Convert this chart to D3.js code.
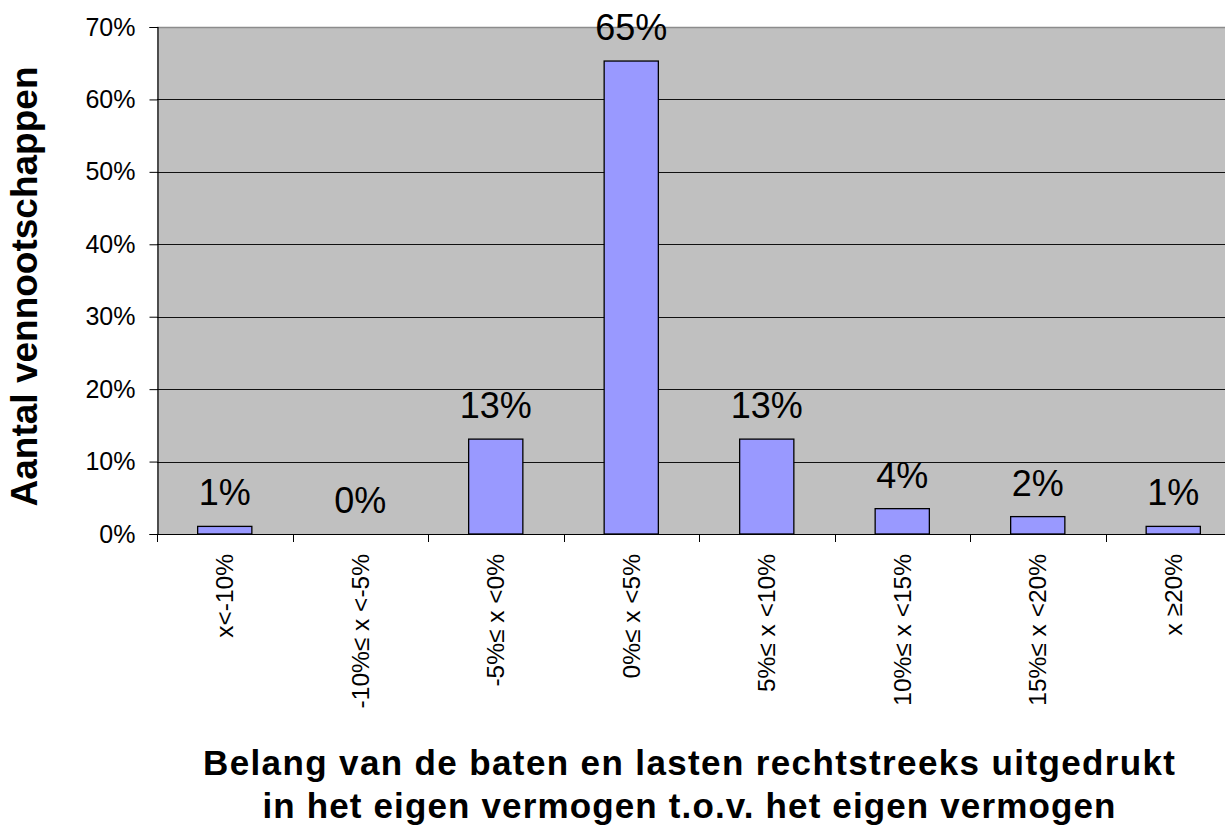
<!DOCTYPE html>
<html>
<head>
<meta charset="utf-8">
<script src="https://cdn.jsdelivr.net/npm/d3@7"></script>
<style>
  html, body { margin: 0; padding: 0; background: #ffffff; }
  svg { display: block; font-family: "Liberation Sans", Arial, sans-serif; }
</style>
</head>
<body>
<svg id="chart" width="1225" height="827"></svg>
<script>
// ---- Data ----
const categories = ["x<-10%", "-10%≤ x <-5%", "-5%≤ x <0%", "0%≤ x <5%", "5%≤ x <10%", "10%≤ x <15%", "15%≤ x <20%", "x ≥20%"];
const values = [1.05, 0, 13.1, 65.3, 13.1, 3.5, 2.4, 1.05]; // percent
const yTicks = [0, 10, 20, 30, 40, 50, 60, 70];
const yTitle = "Aantal vennootschappen";
const xTitleLines = ["Belang van de baten en lasten rechtstreeks uitgedrukt", "in het eigen vermogen t.o.v. het eigen vermogen"];

// ---- Layout ----
const plot = { left: 157, top: 27, right: 1241, bottom: 534 };
const svg = d3.select("#chart");

const x = d3.scaleBand()
  .domain(categories)
  .range([plot.left, plot.right])
  .paddingInner(0.6)
  .paddingOuter(0.3);

const y = d3.scaleLinear()
  .domain([0, 70])
  .range([plot.bottom, plot.top]);

// plot background
svg.append("rect")
  .attr("x", plot.left).attr("y", plot.top)
  .attr("width", plot.right - plot.left)
  .attr("height", plot.bottom - plot.top)
  .attr("fill", "#c0c0c0");

// top border
svg.append("line")
  .attr("x1", plot.left).attr("x2", plot.right)
  .attr("y1", y(70) + 0.5).attr("y2", y(70) + 0.5)
  .attr("stroke", "#8c8c8c").attr("stroke-width", 1.5);

// gridlines
svg.append("g").selectAll("line")
  .data(yTicks.filter(d => d > 0 && d < 70))
  .join("line")
  .attr("x1", plot.left).attr("x2", plot.right)
  .attr("y1", d => Math.round(y(d)) + 0.5).attr("y2", d => Math.round(y(d)) + 0.5)
  .attr("stroke", "#111").attr("stroke-width", 1);

// y axis
const yAxis = d3.axisLeft(y)
  .tickValues(yTicks)
  .tickSize(8)
  .tickPadding(14)
  .tickFormat(d => d + "%");
const gy = svg.append("g")
  .attr("transform", `translate(${plot.left + 0.5},0)`)
  .call(yAxis);
gy.select(".domain").attr("stroke", "#000").attr("stroke-width", 1.2);
gy.selectAll(".tick line").attr("stroke", "#000");
gy.selectAll(".tick text")
  .attr("fill", "#000")
  .style("font-size", "25px")
  .style("font-family", "'Liberation Sans', Arial, sans-serif");

// bars
svg.append("g").selectAll("rect")
  .data(values)
  .join("rect")
  .attr("x", (d, i) => x(categories[i]))
  .attr("y", d => y(d))
  .attr("width", x.bandwidth())
  .attr("height", d => y(0) - y(d))
  .attr("fill", "#9999ff")
  .attr("stroke", "#000")
  .attr("stroke-width", 1.3)
  .style("display", d => d > 0 ? null : "none");

// data labels
svg.append("g").selectAll("text")
  .data(values)
  .join("text")
  .attr("x", (d, i) => x(categories[i]) + x.bandwidth() / 2)
  .attr("y", d => y(d) - 21)
  .attr("text-anchor", "middle")
  .style("font-size", "36px")
  .attr("fill", "#000")
  .text(d => Math.round(d) + "%");

// x axis baseline and category boundary ticks
const step = x.step();
const boundaries = d3.range(categories.length + 1).map(i => plot.left + i * step);
svg.append("line")
  .attr("x1", plot.left).attr("x2", plot.right)
  .attr("y1", y(0) + 0.5).attr("y2", y(0) + 0.5)
  .attr("stroke", "#000").attr("stroke-width", 1.2);
svg.append("g").selectAll("line")
  .data(boundaries)
  .join("line")
  .attr("x1", d => Math.round(d) + 0.5).attr("x2", d => Math.round(d) + 0.5)
  .attr("y1", y(0)).attr("y2", y(0) + 8)
  .attr("stroke", "#000").attr("stroke-width", 1);

// category labels (rotated)
svg.append("g").selectAll("text")
  .data(categories)
  .join("text")
  .attr("transform", d => `translate(${x(d) + x.bandwidth() / 2 + 8.5},554) rotate(-90)`)
  .attr("text-anchor", "end")
  .style("font-size", "24.5px")
  .attr("fill", "#000")
  .text(d => d);

// y title
svg.append("text")
  .attr("transform", `translate(37,${(plot.top + plot.bottom) / 2 + 6}) rotate(-90)`)
  .attr("text-anchor", "middle")
  .style("font-size", "37px")
  .style("font-weight", "bold")
  .attr("fill", "#000")
  .text(yTitle);

// x title
const xTitleY = [775, 818];
const xTitleW = [972, 853];
svg.append("g").selectAll("text")
  .data(xTitleLines)
  .join("text")
  .attr("x", 689)
  .attr("y", (d, i) => xTitleY[i])
  .attr("text-anchor", "middle")
  .attr("textLength", (d, i) => xTitleW[i])
  .attr("lengthAdjust", "spacing")
  .style("font-size", "35px")
  .style("font-weight", "bold")
  .attr("fill", "#000")
  .text(d => d);
</script>
</body>
</html>
